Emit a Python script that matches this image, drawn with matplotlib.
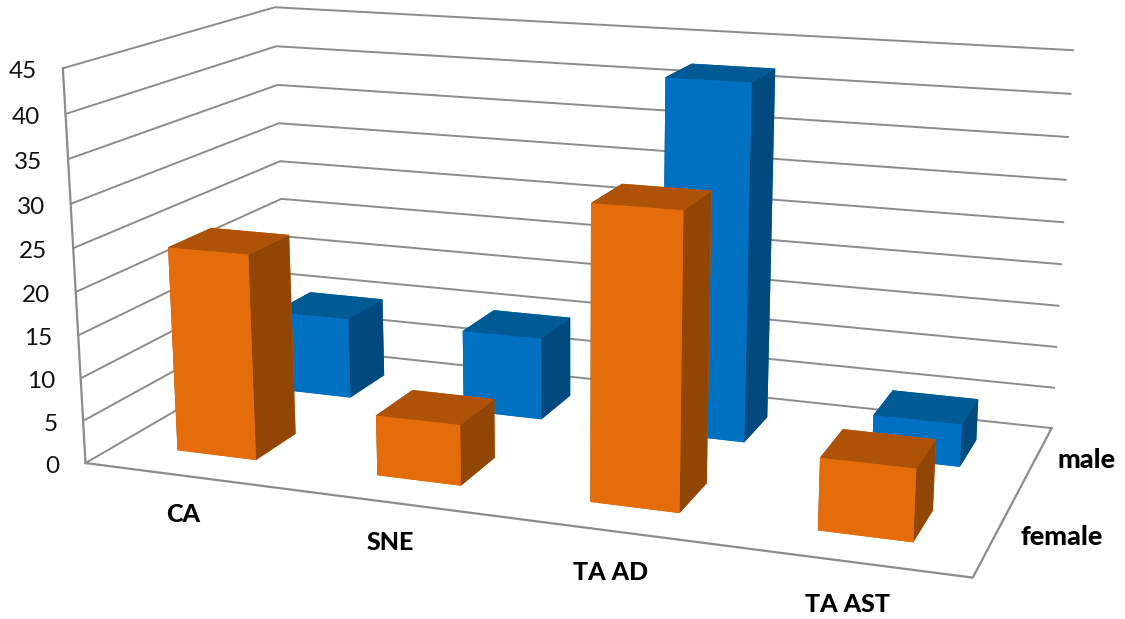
import numpy as np
import matplotlib
matplotlib.use('Agg')
import matplotlib.pyplot as plt
from mpl_toolkits.mplot3d import proj3d

categories = ['CA', 'SNE', 'TA AD', 'TA AST']
series_names = ['female', 'male']
female = [24, 7, 33, 8]
male = [10, 10, 42.2, 5]
z_ticks = [0, 5, 10, 15, 20, 25, 30, 35, 40, 45]

W, H = 1125, 619
plt.rcParams['font.family'] = ['Lato', 'DejaVu Sans']

orange_faces = ['#E46C0A', '#AD5207', '#E46C0A', '#E46C0A', '#924606', '#924606']
blue_faces = ['#0070C0', '#005A94', '#0070C0', '#0070C0', '#004A80', '#004A80']
grid_color = '#8C8C8C'

# wall corners as seen on the picture: (category, series, value) -> pixel
calib_world = np.array([
    (0, 0, 45), (0, 0, 40), (0, 0, 30), (0, 0, 20), (0, 0, 10), (0, 0, 0),
    (0, 2, 45), (0, 2, 40), (0, 2, 35), (0, 2, 30), (0, 2, 25), (0, 2, 20),
    (4, 2, 45), (4, 2, 40), (4, 2, 35), (4, 2, 30), (4, 2, 5), (4, 2, 0),
    (4, 0, 0)], dtype=float)
calib_px = np.array([
    (62, 68), (66, 114.5), (71, 203.5), (76, 292), (81, 378), (85, 463.5),
    (274, 7.5), (277, 46), (278, 85), (279, 123.3), (280, 161), (281, 199),
    (1073.3, 50), (1070.3, 94), (1068, 137), (1065.5, 180), (1054, 387.3), (1051.7, 428.3),
    (972.7, 577.7)], dtype=float)


def fit_camera(world, pts):
    rows = []
    for (x, y, z), (u, v) in zip(world, pts):
        rows.append([x, y, z, 1, 0, 0, 0, 0, -u * x, -u * y, -u * z, -u])
        rows.append([0, 0, 0, 0, x, y, z, 1, -v * x, -v * y, -v * z, -v])
    _, _, vt = np.linalg.svd(np.array(rows))
    return vt[-1].reshape(3, 4)


fig = plt.figure(figsize=(W / 100, H / 100), dpi=100)
# square axes wider than the figure so nothing is clipped
ax = fig.add_axes([0, -(W - H) / 2 / H, 1, W / H], projection='3d')
ax.apply_aspect()
ax.set_axis_off()
ax.computed_zorder = False

# pixels -> axes 2d coordinates, then the projection matrix
display = np.column_stack([calib_px[:, 0], H - calib_px[:, 1]])
P = fit_camera(calib_world, ax.transData.inverted().transform(display))
if P[2] @ np.array([2, 1, 20, 1]) < 0:
    P = -P
M = np.vstack([P[0], P[1], [0, 0, 0, -1], P[2]])
ax.get_proj = lambda: M
ax.M = M

# gridlines on the two walls
for z in z_ticks:
    ax.plot([0, 0, 4], [0, 2, 2], [z, z, z], color=grid_color, lw=1.4, zorder=1)
ax.plot([0, 0], [0, 0], [0, 45], color=grid_color, lw=1.6, zorder=1)
ax.plot([0, 4, 4], [0, 0, 2], [0, 0, 0], color=grid_color, lw=1.6, zorder=1)

# back row first, then front row
bar_w = 0.4
order = 2
for row, values, faces in [(1, male, blue_faces), (0, female, orange_faces)]:
    for i, v in enumerate(values):
        ax.bar3d(i + 0.3, row + 0.3, 0, bar_w, bar_w, v, color=faces, shade=False, zorder=order)
        order += 1

for z in z_ticks:
    px, py, _ = proj3d.proj_transform(0, 0, z, M)
    ax.annotate(str(z), xy=(px, py), xytext=(-18.5, -2.3), textcoords='offset points',
                ha='right', va='center', fontsize=17.5, color='#111111')

label_px = [(183, 515), (390, 543), (611, 573), (847, 604)]
for name, (lx, ly) in zip(categories, label_px):
    fig.text(lx / W, 1 - ly / H, name, ha='center', va='center', fontsize=18, fontweight='black', color='#000000')
for name, (lx, ly) in zip(series_names, [(1062, 537), (1087, 460)]):
    fig.text(lx / W, 1 - ly / H, name, ha='center', va='center', fontsize=19.5, fontweight='black', color='#000000')

fig.savefig('out.png', dpi=100)
